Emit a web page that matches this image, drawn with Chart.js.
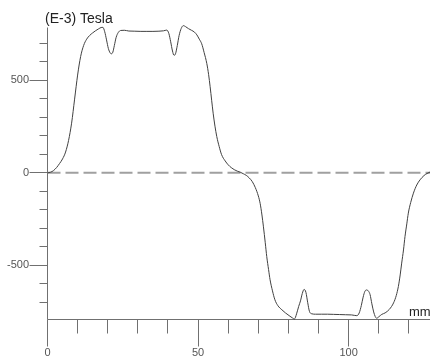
<!DOCTYPE html>
<html>
<head>
<meta charset="utf-8">
<script src="https://cdn.jsdelivr.net/npm/chart.js@4"></script>
<style>
  body { margin: 0; background: #fff; }
  canvas { display: block; }
</style>
</head>
<body>
<canvas id="fieldChart" width="430" height="357"></canvas>
<script>
// position along the path (mm) and flux density (E-3 Tesla)
const positionMm = [
  0, 1, 2, 3, 4, 5, 6, 7, 8, 9, 10, 11, 12, 13, 14, 15, 16, 17, 17.8, 18.4,
  19, 19.6, 20.2, 20.8, 21.2, 21.7, 22.2, 22.8, 23.5, 24.3, 25.5, 27, 29, 31, 33, 35, 37, 38.5, 39.6,
  40.3, 40.9, 41.5, 42, 42.5, 43.1, 43.7, 44.4, 45.1, 45.8, 46.8, 47.8, 48.8, 49.6, 50.4, 51.2,
  52, 52.9, 53.5, 54, 54.5, 55, 55.6, 56.2, 57, 57.8, 59, 60, 61, 62, 63, 64,
  65, 66, 67, 68, 69, 70, 70.6, 71.2, 71.7, 72.3, 72.8, 73.4, 73.9, 74.7, 75.5, 76.5, 77.8, 79,
  80.5, 81.4, 82, 82.7, 83.4, 84, 84.6, 85.2, 85.8, 86.4, 87, 87.8, 89, 91, 93, 95, 97, 99, 101,
  102.7, 103.5, 104.2, 104.8, 105.4, 106, 106.6, 107.1, 107.7, 108.3, 108.8, 109.3, 110, 111,
  112.1, 113.5, 114.9, 115.8, 116.5, 117.1, 117.6, 118.2, 118.7, 119.3, 119.8, 120.6, 121.5,
  122.6, 123.7, 125, 126, 127
];
const fieldE3T = [
  0, 3, 12, 28, 50, 75, 112, 175, 268, 398, 528, 628, 688, 722, 742, 756, 768, 778, 785, 786,
  762, 718, 672, 648, 643, 652, 688, 732, 758, 769, 770, 766, 765, 764, 764, 764, 765, 767, 771,
  752, 708, 658, 635, 643, 688, 742, 780, 795, 790, 779, 770, 760, 745, 722, 697,
  650, 590, 530, 465, 392, 322, 252, 196, 142, 98, 64, 43, 28, 17, 9, 3,
  -5, -14, -28, -48, -80, -125, -165, -228, -292, -378, -453, -523, -578, -638, -686, -718, -740, -757,
  -775, -785, -790, -762, -722, -692, -652, -630, -646, -702, -750, -762, -764, -764, -764, -765, -766, -767, -768,
  -772, -757, -717, -672, -640, -633, -640, -658, -708, -752, -776, -786, -778, -765,
  -757, -738, -703, -663, -614, -552, -488, -417, -344, -276, -218, -160, -110,
  -66, -38, -15, -4, 4
];

const xLabelTicks = [0, 50, 100];
const yLabelTicks = [-500, 0, 500];
const xMinorStep = 10;
const yMinorStep = 100;
const xRange = [0, 127];
const yRange = [-790, 785];

const axisColor = "#707070";
const labelFont = "11px 'Liberation Sans', Arial, sans-serif";

const axesPlugin = {
  id: "axes",
  beforeDatasetsDraw(chart) {
    const { ctx, chartArea, scales } = chart;
    const x0 = Math.floor(scales.x.getPixelForValue(0)) + 0.5;
    const yb = Math.floor(chartArea.bottom) + 0.5;

    ctx.save();
    ctx.strokeStyle = axisColor;
    ctx.lineWidth = 1;
    ctx.beginPath();
    // axis lines
    ctx.moveTo(x0, chartArea.top);
    ctx.lineTo(x0, yb);
    ctx.moveTo(x0, yb);
    ctx.lineTo(chartArea.right, yb);

    // y ticks
    for (let v = -700; v <= 700; v += yMinorStep) {
      const py = Math.floor(scales.y.getPixelForValue(v)) + 0.5;
      const len = yLabelTicks.includes(v) ? 18 : 8;
      ctx.moveTo(x0 - len, py);
      ctx.lineTo(x0, py);
    }
    // x ticks
    for (let v = 0; v <= xRange[1]; v += xMinorStep) {
      const px = Math.floor(scales.x.getPixelForValue(v)) + 0.5;
      const len = xLabelTicks.includes(v) ? 27 : 14;
      ctx.moveTo(px, yb);
      ctx.lineTo(px, yb + len);
    }
    ctx.stroke();

    // tick labels
    ctx.fillStyle = "#555";
    ctx.font = labelFont;
    ctx.textAlign = "right";
    ctx.textBaseline = "middle";
    yLabelTicks.forEach(v => {
      ctx.fillText(String(v), 29, scales.y.getPixelForValue(v));
    });
    ctx.textAlign = "center";
    ctx.textBaseline = "alphabetic";
    xLabelTicks.forEach(v => {
      ctx.fillText(String(v), scales.x.getPixelForValue(v), 356);
    });

    // axis titles
    ctx.fillStyle = "#222";
    ctx.font = "14px 'Liberation Sans', Arial, sans-serif";
    ctx.textAlign = "left";
    ctx.fillText("(E-3) Tesla", 45, 23);
    ctx.font = "13px 'Liberation Sans', Arial, sans-serif";
    ctx.fillText("mm", 409, 316);
    ctx.restore();
  }
};

const points = positionMm.map((x, i) => ({ x, y: fieldE3T[i] }));

new Chart(document.getElementById("fieldChart"), {
  type: "line",
  data: {
    datasets: [
      {
        data: points,
        borderColor: "#404040",
        borderWidth: 1,
        pointRadius: 0,
        cubicInterpolationMode: "monotone",
        clip: false
      },
      {
        data: [{ x: xRange[0], y: 0 }, { x: xRange[1], y: 0 }],
        borderColor: "#a0a0a0",
        borderWidth: 2,
        borderDash: [13, 5],
        pointRadius: 0
      }
    ]
  },
  options: {
    responsive: false,
    devicePixelRatio: 1,
    animation: false,
    layout: { padding: { left: 47.5, right: 0, top: 27.5, bottom: 38 } },
    plugins: { legend: { display: false }, tooltip: { enabled: false } },
    scales: {
      x: { type: "linear", min: xRange[0], max: xRange[1], display: false },
      y: { type: "linear", min: yRange[0], max: yRange[1], display: false }
    }
  },
  plugins: [axesPlugin]
});
</script>
</body>
</html>
